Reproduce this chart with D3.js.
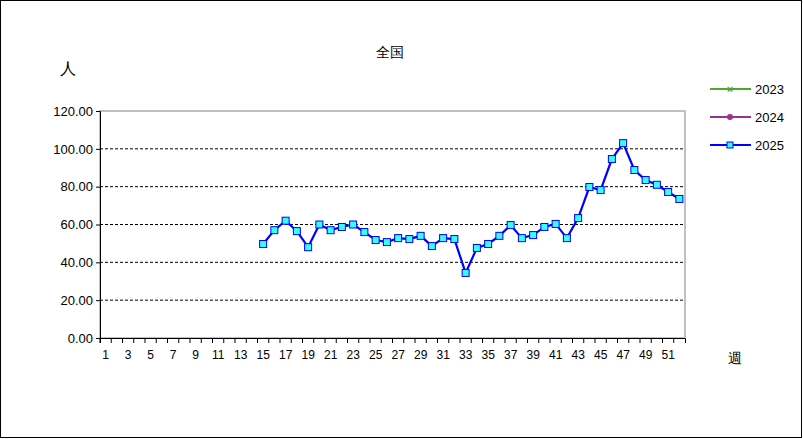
<!DOCTYPE html>
<meta charset="utf-8">
<html>
<script src="https://cdn.jsdelivr.net/npm/d3@7"></script>
<style>
body { margin:0; background:#fff; }
text { font-family: "Liberation Sans", Arial, sans-serif; font-size:13px; fill:#000; }
</style>
<body>
<script>
var weeks = d3.range(1, 53);
var weekLabels = weeks.filter(function(w) { return w % 2 == 1; });
var startWeek = 15;
var values2025 = [49.7, 57, 62, 56.5, 48, 60, 57, 58.7, 60, 56, 51.8, 50.7, 52.8, 52.3, 54,
    48.6, 52.8, 52.3, 34.4, 47.6, 49.7, 54, 59.7, 52.8, 54.4, 58.7, 60.3, 52.8, 63.4,
    79.8, 78.2, 94.6, 103, 88.8, 83.5, 81, 77.2, 73.5];
var yTicks = [0, 20, 40, 60, 80, 100, 120];
var legendNames = ['2023', '2024', '2025'];
var legendColors = ['#4ea72e', '#a0308f', '#0000ff'];

var W = 803, H = 439;
var pLeft = 100, pRight = 685, pTop = 111, pBottom = 338;

var svg = d3.select('body').append('svg').attr('width', W).attr('height', H);
svg.append('rect').attr('x', 0.5).attr('y', 0.5).attr('width', W - 2).attr('height', H - 2)
    .attr('fill', '#fff').attr('stroke', '#000');

var x = d3.scaleBand().domain(weeks).range([pLeft, pRight]);
var y = d3.scaleLinear().domain([0, 120]).range([pBottom, pTop]);

// grid
svg.selectAll('.grid').data(yTicks.slice(1, -1)).enter().append('line')
    .attr('x1', pLeft).attr('x2', pRight)
    .attr('y1', function(d) { return y(d); }).attr('y2', function(d) { return y(d); })
    .attr('stroke', '#000').attr('stroke-dasharray', '3,2');
svg.append('rect').attr('x', pLeft).attr('y', pTop).attr('width', pRight - pLeft).attr('height', pBottom - pTop)
    .attr('fill', 'none').attr('stroke', '#c0c0c0').attr('stroke-width', 2);

// y axis
var yAxis = d3.axisLeft(y).tickValues(yTicks).tickSize(4).tickFormat(d3.format('.2f'));
var ga = svg.append('g').attr('transform', 'translate(' + pLeft + ',0)').call(yAxis);
ga.select('.domain').attr('stroke', '#000');
ga.selectAll('text').style('font-size', '13px');

// x axis
var xAxis = d3.axisBottom(x).tickSize(5).tickFormat(function(d) { return weekLabels.indexOf(d) >= 0 ? d : ''; });
var gx = svg.append('g').attr('transform', 'translate(0,' + pBottom + ')').call(xAxis);
gx.select('.domain').attr('stroke', '#000');
gx.selectAll('.tick line').attr('transform', 'translate(' + (-x.bandwidth() / 2) + ',0)');
gx.selectAll('text').attr('dy', '1.1em').style('font-size', '12px');

// series
var pts = values2025.map(function(v, i) { return { w: startWeek + i, v: v }; });
var cx = function(d) { return x(d.w) + x.bandwidth() / 2; };
svg.append('path').datum(pts)
    .attr('d', d3.line().x(cx).y(function(d) { return y(d.v); }))
    .attr('fill', 'none').attr('stroke', '#0000ff').attr('stroke-width', 2.2);
svg.selectAll('.pt').data(pts).enter().append('rect')
    .attr('x', function(d) { return cx(d) - 3.5; }).attr('y', function(d) { return y(d.v) - 3.5; })
    .attr('width', 7).attr('height', 7).attr('fill', '#33ffff').attr('stroke', '#0000ff');

// titles
svg.append('text').attr('x', 390).attr('y', 57).attr('text-anchor', 'middle').style('font-size', '14px').text('全国');
svg.append('text').attr('x', 68).attr('y', 74).attr('text-anchor', 'middle').style('font-size', '16px').text('人');
svg.append('text').attr('x', 735).attr('y', 363).attr('text-anchor', 'middle').style('font-size', '14px').text('週');

// legend
var lg = svg.selectAll('.lg').data(legendNames).enter().append('g')
    .attr('transform', function(d, i) { return 'translate(710,' + (89 + i * 28) + ')'; });
lg.append('line').attr('x1', 0).attr('x2', 41).attr('stroke', function(d, i) { return legendColors[i]; }).attr('stroke-width', 2);
lg.append('text').attr('x', 45).attr('y', 5).text(function(d) { return d; });
lg.filter(function(d, i) { return i == 0; }).append('text').attr('x', 20).attr('y', 4)
    .attr('text-anchor', 'middle').style('fill', legendColors[0]).style('font-size', '11px').style('font-weight', 'bold').text('×');
lg.filter(function(d, i) { return i == 1; }).append('circle').attr('cx', 20).attr('r', 3).attr('fill', legendColors[1]);
lg.filter(function(d, i) { return i == 2; }).append('rect').attr('x', 17).attr('y', -3).attr('width', 6).attr('height', 6)
    .attr('fill', '#33ffff').attr('stroke', '#0000ff');
</script>
</body>
</html>
